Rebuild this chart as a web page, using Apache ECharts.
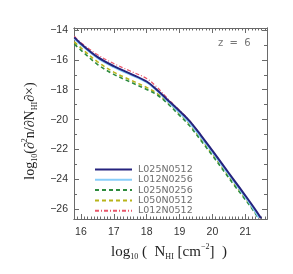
<!DOCTYPE html>
<html><head><meta charset="utf-8">
<script src="https://cdn.jsdelivr.net/npm/echarts@6/dist/echarts.min.js"></script>
<style>html,body{margin:0;padding:0;background:#fff}#c{width:293px;height:274px}</style>
</head><body><div id="c"></div>
<script>
// ---- data ----
const nhi = [15.8, 16.0, 16.5, 17.0, 17.5, 18.0, 18.3, 18.6, 19.0, 19.3, 19.65, 20.0, 20.3, 20.65, 21.0, 21.25];
const seriesNames = ['L025N0512', 'L012N0256', 'L025N0256', 'L050N0512', 'L012N0512'];
const endNhi = [21.48, 21.42, 21.4, 21.42, 21.45];
const L025N0512 = [-14.5, -14.92, -15.8, -16.42, -16.92, -17.45, -17.98, -18.6, -19.42, -20.08, -21.05, -22.08, -22.98, -24.03, -25.08, -25.85, -26.6];
const L012N0256 = [-14.6, -15.0, -15.88, -16.5, -17.0, -17.52, -18.05, -18.7, -19.55, -20.22, -21.2, -22.2, -23.1, -24.15, -25.2, -26.0, -26.6];
const L025N0256 = [-14.95, -15.35, -16.3, -16.97, -17.48, -17.98, -18.32, -18.85, -19.72, -20.4, -21.4, -22.4, -23.3, -24.35, -25.35, -26.1, -26.6];
const L050N0512 = [-14.8, -15.2, -16.12, -16.82, -17.34, -17.85, -18.22, -18.77, -19.62, -20.3, -21.3, -22.3, -23.2, -24.25, -25.28, -26.05, -26.6];
const L012N0512 = [-14.42, -14.85, -15.65, -16.25, -16.75, -17.25, -17.8, -18.5, -19.38, -20.05, -21.05, -22.1, -23.0, -24.08, -25.15, -25.95, -26.6];
const xTicks = [16, 17, 18, 19, 20, 21];
const yTicks = [-14, -16, -18, -20, -22, -24, -26];
const yMinorTicks = [-15, -17, -19, -21, -23, -25];
const zLabel = 'z  =  6';

// ---- layout / style ----
const XMIN = 15.79, XMAX = 21.66, YMIN = -26.65, YMAX = -13.87;
const xMinor = [];
for (let v = 15.9; v < 21.65; v += 0.1) { const r = Math.round(v * 10) / 10; if (Math.abs(r - Math.round(r)) > 1e-6) xMinor.push(r); }
const frame = '#6a6a6a';
const styles = [
  { color: '#25237e', width: 2, type: 'solid' },
  { color: '#87cefa', width: 1.6, type: 'solid' },
  { color: '#2e8b3e', width: 1.6, type: [4, 3] },
  { color: '#b8b41a', width: 1.6, type: [4, 3] },
  { color: '#e8566a', width: 1.2, type: [4, 2, 1, 2] }
];
const yValues = [L025N0512, L012N0256, L025N0256, L050N0512, L012N0512];

function xAx(pos, ticks, len, labels) {
  return {
    type: 'value', position: pos, min: XMIN, max: XMAX,
    axisLine: { show: true, onZero: false, lineStyle: { color: frame, width: 1 } },
    axisTick: { show: true, inside: true, length: len, customValues: ticks, lineStyle: { color: frame } },
    axisLabel: labels ? { show: true, customValues: xTicks, margin: 8, color: '#333', fontSize: 10.5, fontFamily: 'Liberation Sans' } : { show: false },
    splitLine: { show: false }
  };
}
function yAx(pos, ticks, len, labels) {
  return {
    type: 'value', position: pos, min: YMIN, max: YMAX,
    axisLine: { show: true, onZero: false, lineStyle: { color: frame, width: 1 } },
    axisTick: { show: true, inside: true, length: len, customValues: ticks, lineStyle: { color: frame } },
    axisLabel: labels ? { show: true, customValues: yTicks, margin: 6, color: '#333', fontSize: 10.5, fontFamily: 'Liberation Sans',
      formatter: v => '\u2212' + Math.abs(v) } : { show: false },
    splitLine: { show: false }
  };
}

const series = seriesNames.map((n, i) => ({
  name: n, type: 'line', xAxisIndex: 0, yAxisIndex: 0,
  data: nhi.concat([endNhi[i]]).map((x, j) => [x, yValues[i][j]]),
  smooth: 0.35, symbol: 'none', clip: true,
  lineStyle: { color: styles[i].color, width: styles[i].width, type: styles[i].type },
  itemStyle: { color: styles[i].color },
  z: 10 - i
}));

const chart = echarts.init(document.getElementById('c'), null, { renderer: 'canvas' });
const rich = {
  t: { fontFamily: 'Liberation Serif', fontSize: 14, lineHeight: 18, fill: '#222', verticalAlign: 'middle' },
  s: { fontFamily: 'Liberation Serif', fontSize: 8, lineHeight: 18, fill: '#222', verticalAlign: 'bottom' },
  p: { fontFamily: 'Liberation Serif', fontSize: 8, lineHeight: 18, fill: '#222', verticalAlign: 'top' }
};
chart.setOption({
  animation: false,
  grid: { left: 74, right: 26, top: 28, bottom: 55, containLabel: false },
  xAxis: [xAx('bottom', xTicks, 5, true), xAx('bottom', xMinor, 2.5, false), xAx('top', xTicks, 5, false), xAx('top', xMinor, 2.5, false)],
  yAxis: [yAx('left', yTicks, 5, true), yAx('left', yMinorTicks, 3, false), yAx('right', yTicks, 5, false), yAx('right', yMinorTicks, 3, false)],
  legend: {
    orient: 'vertical', left: 89, top: 159.5,
    itemWidth: 37, itemHeight: 9, itemGap: 0.3,
    data: seriesNames,
    itemStyle: { opacity: 0 },
    textStyle: { color: '#6e6e6e', fontSize: 9.5, fontFamily: 'DejaVu Sans', lineHeight: 9, padding: [0, 0, 0, 1] }
  },
  graphic: [
    { type: 'text', left: 218, top: 38, style: { text: zLabel, fill: '#777', font: '10px "DejaVu Sans"' } },
    { type: 'text', x: 30, y: 131, rotation: Math.PI / 2,
      style: { text: '{t|log}{s|10}{t|(∂}{p|2}{t|n/∂N}{s|HI}{t|∂×)}', align: 'center', verticalAlign: 'middle', rich: rich } },
    { type: 'text', x: 169, y: 252,
      style: { text: '{t|log}{s|10}{t| (  N}{s|HI}{t| [cm}{p|−2}{t|]  )}', align: 'center', verticalAlign: 'middle',
        rich: Object.assign({}, rich, { t: Object.assign({}, rich.t, { fontSize: 15 }) }) } }
  ],
  series: series
});
</script>
</body></html>
